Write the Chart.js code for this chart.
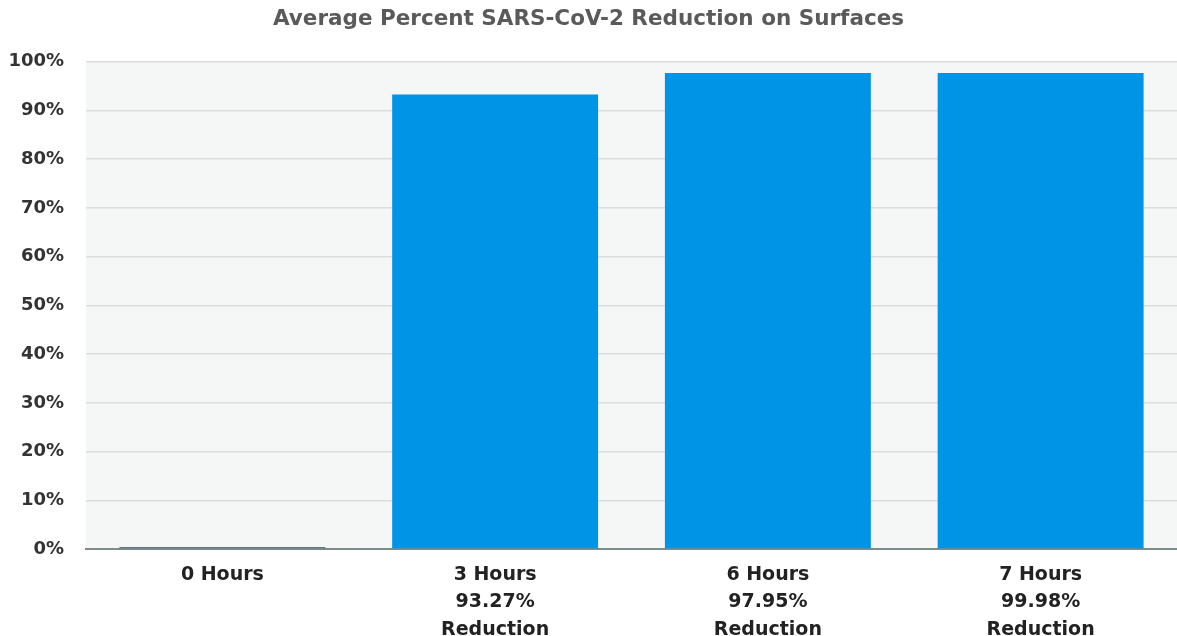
<!DOCTYPE html>
<html>
<head>
<meta charset="utf-8">
<script src="https://cdn.jsdelivr.net/npm/chart.js@4"></script>
<style>
  body { margin: 0; background: #fff; }
  #wrap { width: 1177px; height: 636px; }
</style>
</head>
<body>
<div id="wrap"><canvas id="myChart"></canvas></div>
<script>
// chart data
const categories = [
  ['0 Hours'],
  ['3 Hours', '93.27%', 'Reduction'],
  ['6 Hours', '97.95%', 'Reduction'],
  ['7 Hours', '99.98%', 'Reduction']
];
const reduction = [0, 93.27, 97.7, 97.7];
const barColors = ['#5f7a80', '#0094e6', '#0094e6', '#0094e6'];
const yTicks = [0, 10, 20, 30, 40, 50, 60, 70, 80, 90, 100];

// light grey fill behind the plot area
const plotBg = {
  id: 'plotBg',
  beforeDraw(chart) {
    const a = chart.chartArea;
    const ctx = chart.ctx;
    ctx.save();
    ctx.fillStyle = '#f5f6f6';
    ctx.fillRect(a.left, a.top, a.right - a.left, a.bottom - a.top);
    ctx.restore();
  }
};

const ctx = document.getElementById('myChart').getContext('2d');
new Chart(ctx, {
  type: 'bar',
  data: {
    labels: categories,
    datasets: [{
      label: 'Reduction',
      data: reduction,
      backgroundColor: barColors,
      barPercentage: 0.755,
      categoryPercentage: 1,
      minBarLength: 2
    }]
  },
  options: {
    responsive: true,
    maintainAspectRatio: false,
    animation: false,
    layout: { padding: 0 },
    plugins: {
      legend: { display: false },
      tooltip: { enabled: false },
      title: {
        display: true,
        text: 'Average Percent SARS-CoV-2 Reduction on Surfaces',
        color: '#5a5a5a',
        font: { family: 'DejaVu Sans', size: 21.5, weight: 'bold', lineHeight: 1.2 },
        padding: { top: 7, bottom: 29 }
      }
    },
    scales: {
      x: {
        grid: { display: false, drawTicks: false },
        border: { color: '#7d8b8c', width: 2 },
        afterFit(axis) { axis.height = 87; },
        ticks: {
          color: '#222222',
          font: { family: 'DejaVu Sans', size: 19, weight: 'bold', lineHeight: 1.45 },
          padding: 12,
          maxRotation: 0
        }
      },
      y: {
        min: 0,
        max: 100,
        afterBuildTicks(axis) {
          axis.ticks = yTicks.map(v => ({ value: v }));
        },
        afterFit(axis) { axis.width = 86; },
        grid: { color: '#dcdddd', lineWidth: 1.5, drawTicks: false },
        border: { display: false },
        ticks: {
          color: '#333333',
          font: { family: 'DejaVu Sans', size: 18, weight: 'bold' },
          padding: 22,
          callback: v => v + '%'
        }
      }
    }
  },
  plugins: [plotBg]
});
</script>
</body>
</html>
